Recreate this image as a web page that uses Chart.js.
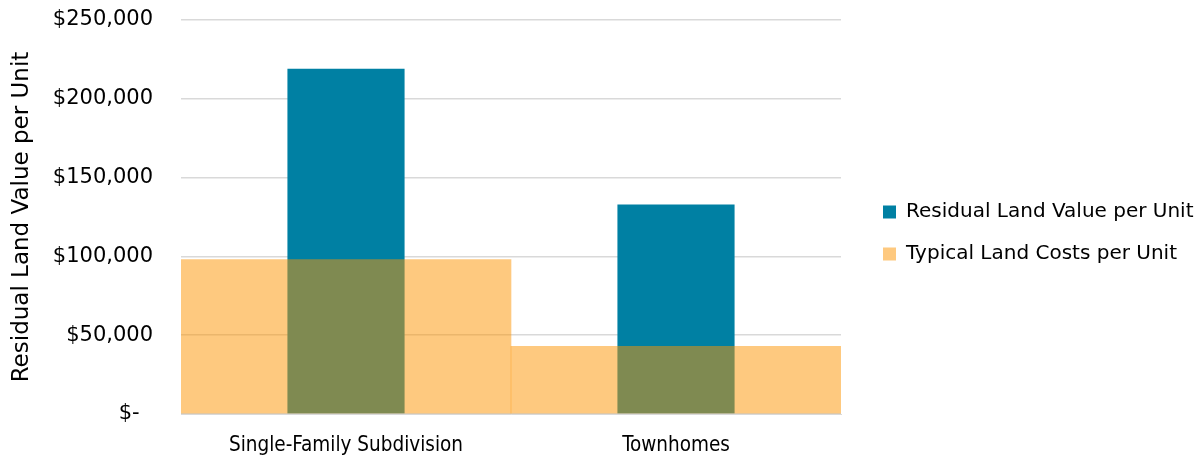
<!DOCTYPE html>
<html>
<head>
<meta charset="utf-8">
<script src="https://cdn.jsdelivr.net/npm/chart.js@4.4.1/dist/chart.umd.min.js"></script>
<style>
body { margin: 0; background: #fff; }
</style>
</head>
<body>
<canvas id="landChart" width="1201" height="458"></canvas>
<script>
const categories = ['Single-Family Subdivision', 'Townhomes'];
const residualLand = [219000, 133000];
const typicalCosts = [98000, 43000];
const yMax = 250000;
const yStep = 50000;

// legend sits a bit right of the plot, box fixed at 360 wide
const legendSpot = {
  id: 'legendSpot',
  afterInit(chart) {
    const lg = chart.legend;
    const fit = lg.fit;
    lg.fit = function () { fit.call(this); this.width = 360; };
  },
  afterLayout(chart) {
    const lg = chart.legend;
    lg.left += 20;
    lg.top -= 6;
    lg.bottom -= 6;
  }
};

const ctx = document.getElementById('landChart').getContext('2d');
const landChart = new Chart(ctx, {
  type: 'bar',
  data: {
    labels: categories,
    datasets: [{
      label: 'Typical Land Costs per Unit',
      data: typicalCosts,
      backgroundColor: 'rgba(253, 147, 0, 0.5)',
      grouped: false,
      barPercentage: 1,
      categoryPercentage: 1
    }, {
      label: 'Residual Land Value per Unit',
      data: residualLand,
      backgroundColor: '#0080a3',
      grouped: false,
      barPercentage: 0.355,
      categoryPercentage: 1
    }]
  },
  options: {
    responsive: false,
    animation: false,
    layout: { padding: { top: 20, left: 0, right: 0, bottom: 0 } },
    plugins: {
      tooltip: { enabled: false },
      legend: {
        position: 'right',
        align: 'center',
        labels: {
          sort: (a, b) => b.datasetIndex - a.datasetIndex,
          boxWidth: 13,
          boxHeight: 13,
          padding: 22,
          color: '#000',
          font: { family: 'DejaVu Sans', size: 20 }
        }
      }
    },
    scales: {
      x: {
        grid: { display: false },
        border: { color: '#d9d9d9', width: 1 },
        ticks: {
          color: '#000',
          padding: 11,
          maxRotation: 0,
          font: { family: '"DejaVu Sans Condensed", "Liberation Sans"', size: 20.5 }
        },
        afterFit(scale) { scale.height = 44; }
      },
      y: {
        min: 0,
        max: yMax,
        border: { display: false },
        grid: { color: '#d9d9d9', lineWidth: 1.5, drawTicks: false },
        ticks: {
          stepSize: yStep,
          padding: 28,
          color: '#000',
          font: { family: 'DejaVu Sans', size: 21 },
          callback: v => v === 0 ? '$-  ' : '$' + v.toLocaleString('en-US')
        },
        title: {
          display: true,
          text: 'Residual Land Value per Unit',
          color: '#000',
          padding: { top: 8, bottom: 0 },
          font: { family: 'DejaVu Sans', size: 23 }
        },
        afterFit(scale) {
          scale.width = 181;
          scale.paddingTop = 0;
          scale.paddingBottom = 0;
        }
      }
    }
  },
  plugins: [legendSpot]
});
</script>
</body>
</html>
